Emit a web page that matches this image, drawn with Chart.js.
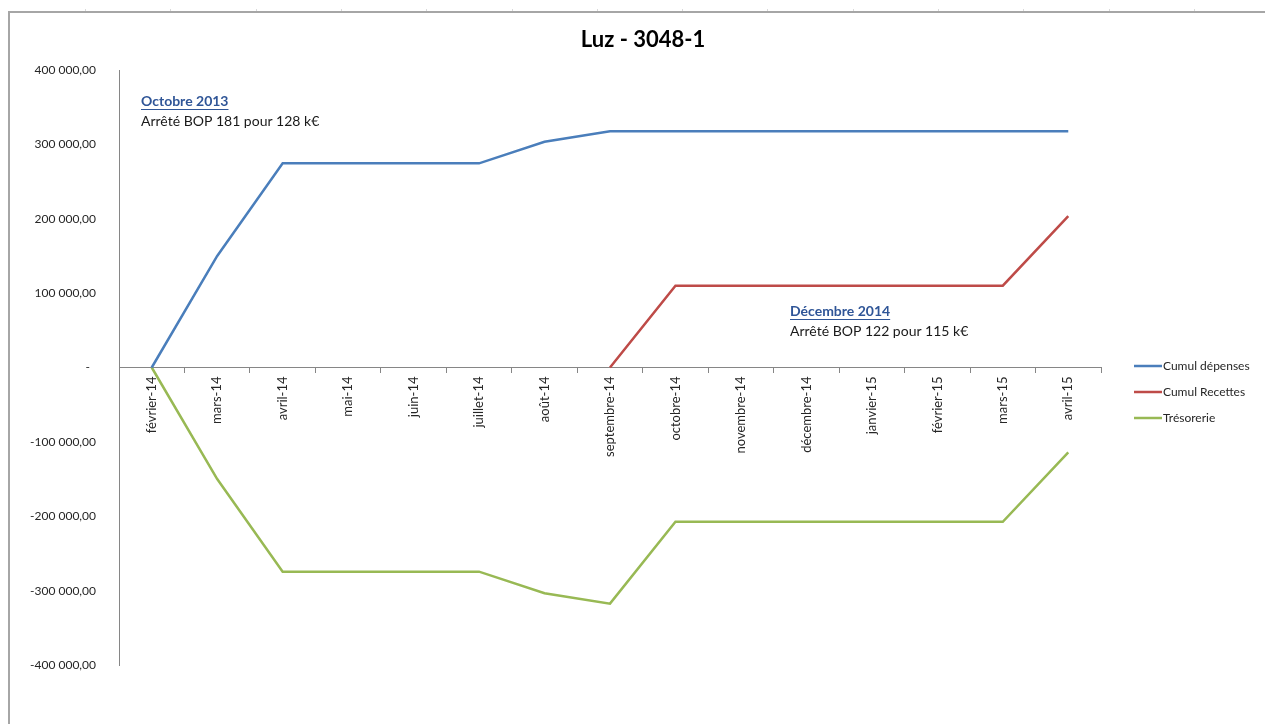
<!DOCTYPE html>
<html>
<head>
<meta charset="utf-8">
<script src="https://cdn.jsdelivr.net/npm/chart.js@4/dist/chart.umd.min.js"></script>
<style>
  html, body { margin: 0; padding: 0; background: #fff; }
  #wrap { width: 1265px; height: 724px; }
</style>
</head>
<body>
<div id="wrap"><canvas id="c" width="1265" height="724"></canvas></div>
<script>
const categories = ['février-14','mars-14','avril-14','mai-14','juin-14','juillet-14','août-14','septembre-14','octobre-14','novembre-14','décembre-14','janvier-15','février-15','mars-15','avril-15'];
const cumulDepenses = [0,150000,274500,274500,274500,274500,303500,317500,317500,317500,317500,317500,317500,317500,317500];
const cumulRecettes = [null,null,null,null,null,null,null,0,110000,110000,110000,110000,110000,110000,203500];
const tresorerie = [0,-150000,-274500,-274500,-274500,-274500,-303500,-317500,-207500,-207500,-207500,-207500,-207500,-207500,-114000];
const seriesNames = ['Cumul dépenses','Cumul Recettes','Trésorerie'];
const seriesColors = ['#4A7EBB','#BE4B48','#98B954'];
const chartTitle = 'Luz - 3048-1';
const annotations = [
  { title: 'Octobre 2013', text: 'Arrêté BOP 181 pour 128 k€', x: 141, y: 101 },
  { title: 'Décembre 2014', text: 'Arrêté BOP 122 pour 115 k€', x: 790, y: 311 }
];
const FONT = 'Lato, "Open Sans", sans-serif';

function fmtY(v) {
  if (v === 0) return '-  ';
  const neg = v < 0;
  const s = Math.abs(v).toFixed(0).replace(/\B(?=(\d{3})+(?!\d))/g, ' ');
  return (neg ? '-' : '') + s + ',00';
}

const decorPlugin = {
  id: 'decor',
  beforeDraw(chart) {
    const ctx = chart.ctx;
    ctx.save();
    ctx.fillStyle = '#fff';
    ctx.fillRect(0, 0, chart.width, chart.height);
    ctx.strokeStyle = '#A6A6A6';
    ctx.lineWidth = 2;
    ctx.beginPath();
    ctx.moveTo(9, chart.height);
    ctx.lineTo(9, 12);
    ctx.lineTo(chart.width, 12);
    ctx.stroke();
    ctx.strokeStyle = '#D9D9D9';
    ctx.lineWidth = 1;
    for (let x = 85; x < chart.width; x += 85.3) {
      ctx.beginPath();
      ctx.moveTo(Math.round(x) + 0.5, 9);
      ctx.lineTo(Math.round(x) + 0.5, 11);
      ctx.stroke();
    }
    ctx.restore();
  },
  afterDraw(chart) {
    const ctx = chart.ctx;
    ctx.save();
    ctx.fillStyle = '#000';
    ctx.font = 'bold 22px ' + FONT;
    ctx.textAlign = 'center';
    ctx.textBaseline = 'middle';
    ctx.fillText(chartTitle, 643, 40);
    ctx.textAlign = 'left';
    annotations.forEach(a => {
      ctx.font = 'bold 14px ' + FONT;
      ctx.fillStyle = '#2F5597';
      ctx.fillText(a.title, a.x, a.y);
      const w = ctx.measureText(a.title).width;
      ctx.strokeStyle = '#2F5597';
      ctx.lineWidth = 1;
      ctx.beginPath();
      ctx.moveTo(a.x, a.y + 8.5);
      ctx.lineTo(a.x + w, a.y + 8.5);
      ctx.stroke();
      ctx.font = '14px ' + FONT;
      ctx.fillStyle = '#1a1a1a';
      ctx.fillText(a.text, a.x, a.y + 20);
    });
    const lx = 1134, ly0 = 366, step = 26;
    chart.data.datasets.forEach((ds, i) => {
      const y = ly0 + i * step;
      ctx.strokeStyle = ds.borderColor;
      ctx.lineWidth = 2.5;
      ctx.beginPath();
      ctx.moveTo(lx, y);
      ctx.lineTo(lx + 28, y);
      ctx.stroke();
      ctx.fillStyle = '#262626';
      ctx.font = '12px ' + FONT;
      ctx.textBaseline = 'middle';
      ctx.fillText(ds.label, lx + 29, y);
    });
    ctx.restore();
  }
};

const ctx = document.getElementById('c').getContext('2d');
new Chart(ctx, {
  type: 'line',
  data: {
    labels: categories,
    datasets: [
      { label: seriesNames[0], data: cumulDepenses, borderColor: seriesColors[0], backgroundColor: seriesColors[0] },
      { label: seriesNames[1], data: cumulRecettes, borderColor: seriesColors[1], backgroundColor: seriesColors[1] },
      { label: seriesNames[2], data: tresorerie, borderColor: seriesColors[2], backgroundColor: seriesColors[2] }
    ].map(d => Object.assign(d, { borderWidth: 2.5, pointRadius: 0, pointHoverRadius: 0, tension: 0, fill: false, spanGaps: false }))
  },
  options: {
    responsive: false,
    animation: false,
    events: [],
    layout: { padding: { left: 0, top: 70, right: 164, bottom: 59 } },
    plugins: {
      legend: { display: false },
      title: { display: false },
      tooltip: { enabled: false }
    },
    scales: {
      x: {
        type: 'category',
        position: { y: 0 },
        offset: true,
        grid: { offset: true, drawOnChartArea: false, drawTicks: true, tickLength: 5, color: '#868686', lineWidth: 1 },
        border: { display: true, color: '#868686', width: 1 },
        ticks: {
          autoSkip: false, minRotation: 90, maxRotation: 90, padding: 4,
          color: '#262626', font: { family: FONT, size: 13 }
        }
      },
      y: {
        min: -400000, max: 400000,
        afterFit(scale) { scale.width = 119; },
        grid: { display: true, drawOnChartArea: false, drawTicks: false },
        border: { display: true, color: '#868686', width: 1 },
        ticks: {
          stepSize: 100000, padding: 23,
          color: '#262626', font: { family: FONT, size: 12 },
          callback: (v) => fmtY(v)
        }
      }
    }
  },
  plugins: [decorPlugin]
});
</script>
</body>
</html>
